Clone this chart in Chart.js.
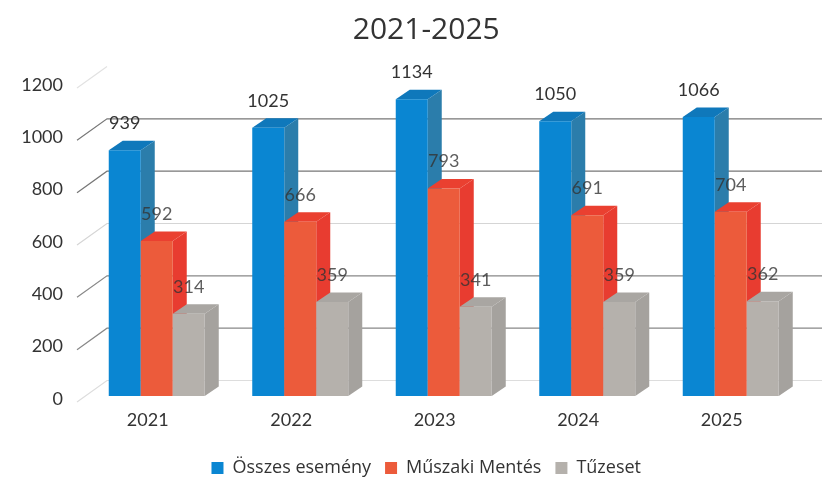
<!DOCTYPE html>
<html>
<head>
<meta charset="utf-8">
<title>2021-2025</title>
<script src="https://cdn.jsdelivr.net/npm/chart.js@4"></script>
<style>
html, body { margin: 0; padding: 0; background: #fff; }
#chart { display: block; }
</style>
</head>
<body>
<canvas id="chart" width="826" height="477"></canvas>
<script>
const years = ['2021', '2022', '2023', '2024', '2025'];
const osszes = [939, 1025, 1134, 1050, 1066];
const muszaki = [592, 666, 793, 691, 704];
const tuzeset = [314, 359, 341, 359, 362];

const frontColors = ['#0a86d2', '#ec5b3b', '#b5b1ac'];
const sideColors = ['#2b7dab', '#e83c30', '#a5a29e'];
const topColors = ['#0f78bb', '#ea4030', '#a9a6a2'];
const gridColors = ['#dddddd', '#888888', '#888888', '#d5d5d5', '#777777', '#777777', '#e2e2e2'];

const depthX = 14;
const depthY = 9.5;

function drawGrid(chart) {
    const ctx = chart.ctx;
    const y = chart.scales.y;
    ctx.save();
    ctx.lineWidth = 1.2;
    y.ticks.forEach((tick, i) => {
        const py = y.getPixelForValue(tick.value);
        ctx.strokeStyle = gridColors[i];
        ctx.beginPath();
        ctx.moveTo(77, py + 6);
        ctx.lineTo(107, py - 15.5);
        if (tick.value < 1200) ctx.lineTo(822, py - 15.5);
        ctx.stroke();
    });
    ctx.restore();
}

function drawDepth(ctx, bar, i) {
    const left = bar.x - bar.width / 2;
    const right = bar.x + bar.width / 2;
    ctx.fillStyle = sideColors[i];
    ctx.beginPath();
    ctx.moveTo(right, bar.y);
    ctx.lineTo(right + depthX, bar.y - depthY);
    ctx.lineTo(right + depthX, bar.base - depthY);
    ctx.lineTo(right, bar.base);
    ctx.closePath();
    ctx.fill();
    ctx.fillStyle = topColors[i];
    ctx.beginPath();
    ctx.moveTo(left, bar.y);
    ctx.lineTo(left + depthX, bar.y - depthY);
    ctx.lineTo(right + depthX, bar.y - depthY);
    ctx.lineTo(right, bar.y);
    ctx.closePath();
    ctx.fill();
}

// chart.js draws the last dataset first, here the gray bars have to end up in front
const bars3d = {
    id: 'bars3d',
    afterLayout(chart) {
        chart.scales.y.left = 0;
    },
    beforeDatasetsDraw(chart) {
        const ctx = chart.ctx;
        drawGrid(chart);
        chart.data.datasets.forEach((ds, i) => {
            const meta = chart.getDatasetMeta(i);
            meta.data.forEach((bar) => drawDepth(ctx, bar, i));
            meta.controller.draw();
        });
        ctx.save();
        ctx.font = '18px Lato';
        ctx.fillStyle = '#333';
        ctx.textAlign = 'center';
        ctx.textBaseline = 'middle';
        chart.data.datasets.forEach((ds, i) => {
            chart.getDatasetMeta(i).data.forEach((bar, j) => {
                ctx.globalAlpha = i == 0 ? 1 : 0.8;
                ctx.fillText(ds.data[j], bar.x, bar.y - 27);
            });
        });
        ctx.restore();
        return false;
    }
};

new Chart(document.querySelector('#chart'), {
    type: 'bar',
    data: {
        labels: years,
        datasets: [
            { label: 'Összes esemény', data: osszes, backgroundColor: frontColors[0] },
            { label: 'Műszaki Mentés', data: muszaki, backgroundColor: frontColors[1] },
            { label: 'Tűzeset', data: tuzeset, backgroundColor: frontColors[2] }
        ]
    },
    plugins: [bars3d],
    options: {
        responsive: false,
        animation: false,
        categoryPercentage: 0.669,
        barPercentage: 1,
        layout: { padding: { left: 50, right: 23.5, bottom: -10 } },
        scales: {
            x: {
                afterFit(scale) { scale.height = 49; },
                grid: { display: false },
                border: { display: false },
                ticks: { color: '#333', font: { family: 'Lato', size: 18 }, padding: 5, labelOffset: -9, maxRotation: 0 }
            },
            y: {
                min: 0,
                max: 1200,
                afterFit(scale) { scale.width = 35; },
                grid: { display: false },
                border: { display: false },
                ticks: {
                    stepSize: 200,
                    color: '#333',
                    font: { family: 'Lato', size: 18 },
                    padding: 14,
                    labelOffset: 3,
                    callback: (value) => String(value)
                }
            }
        },
        plugins: {
            title: {
                display: true,
                text: '2021-2025',
                color: '#333',
                font: { family: 'Open Sans', size: 30, weight: 'normal' },
                padding: { top: 12, bottom: 34 }
            },
            legend: {
                position: 'bottom',
                labels: {
                    boxWidth: 12,
                    boxHeight: 12,
                    padding: 14,
                    color: '#333',
                    font: { family: 'Open Sans', size: 18 }
                }
            },
            tooltip: { enabled: false }
        }
    }
});
</script>
</body>
</html>
